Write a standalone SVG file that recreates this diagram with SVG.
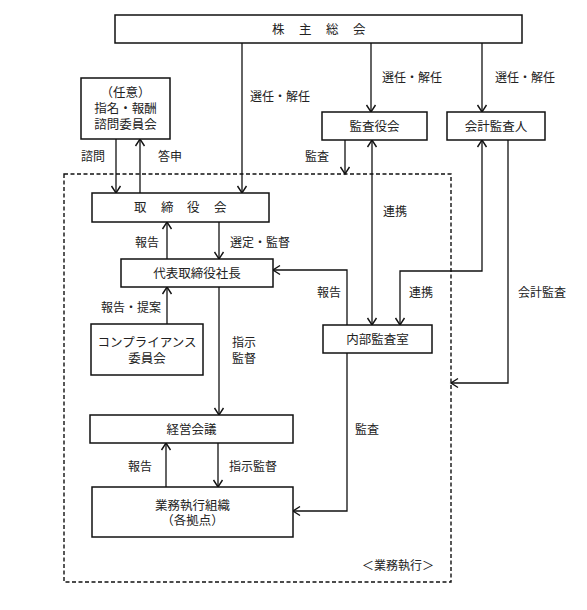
<svg xmlns="http://www.w3.org/2000/svg" width="587" height="610" viewBox="0 0 587 610">
<defs>
<marker id="ah" markerUnits="userSpaceOnUse" markerWidth="12" markerHeight="12" viewBox="-10 -6 12 12" refX="0" refY="0" orient="auto-start-reverse">
<path d="M-7,-4.5 L0,0 L-7,4.5" fill="none" stroke="#111" stroke-width="1.4"/>
</marker>
<style>
.box{fill:#fff;stroke:#111;stroke-width:1.5}
.t{font-family:"Noto Sans CJK JP","Noto Sans",sans-serif;font-size:12.5px;fill:#222}
.c{text-anchor:middle}
.l{font-family:"Noto Sans CJK JP","Noto Sans",sans-serif;font-size:12px;fill:#222}
.ln{fill:none;stroke:#111;stroke-width:1.3}
.ar{marker-end:url(#ah)}
.dash{fill:none;stroke:#111;stroke-width:1.4;stroke-dasharray:4,2.5}
</style>
</defs>
<rect class="dash" x="64" y="174" width="387" height="408"/>
<g id="connectors">
<line class="ln ar" x1="242" y1="43" x2="242" y2="193"/>
<line class="ln ar" x1="371" y1="43" x2="371" y2="112"/>
<line class="ln ar" x1="482" y1="43" x2="482" y2="112"/>
<line class="ln ar" x1="116" y1="139" x2="116" y2="193"/>
<line class="ln ar" x1="140" y1="193" x2="140" y2="139"/>
<line class="ln ar" x1="345" y1="140" x2="345" y2="174"/>
<line class="ln ar" x1="372" y1="140" x2="372" y2="325" style="marker-start:url(#ah)"/>
<path class="ln ar" d="M400,325 V271 H482 V140" style="marker-start:url(#ah)"/>
<path class="ln ar" d="M508,140 V383 H451"/>
<line class="ln ar" x1="167" y1="259" x2="167" y2="222"/>
<line class="ln ar" x1="219" y1="222" x2="219" y2="259"/>
<line class="ln ar" x1="167" y1="324" x2="167" y2="287"/>
<line class="ln ar" x1="219" y1="287" x2="219" y2="415"/>
<path class="ln ar" d="M347,325 V270 H273"/>
<line class="ln ar" x1="166" y1="487" x2="166" y2="443"/>
<line class="ln ar" x1="218" y1="443" x2="218" y2="487"/>
<path class="ln ar" d="M347,353 V511 H293"/>
</g>
<g id="labels">
<text class="l" x="250" y="101">選任・解任</text>
<text class="l" x="382" y="82">選任・解任</text>
<text class="l" x="495" y="82">選任・解任</text>
<text class="l" x="81" y="161">諮問</text>
<text class="l" x="158" y="161">答申</text>
<text class="l" x="305" y="161">監査</text>
<text class="l" x="383" y="216">連携</text>
<text class="l" x="135" y="247">報告</text>
<text class="l" x="230" y="247">選定・監督</text>
<text class="l" x="317" y="297">報告</text>
<text class="l" x="409" y="297">連携</text>
<text class="l" x="518" y="297">会計監査</text>
<text class="l" x="101" y="312">報告・提案</text>
<text class="l" x="232" y="347">指示</text>
<text class="l" x="232" y="363">監督</text>
<text class="l" x="355" y="434">監査</text>
<text class="l" x="128" y="471">報告</text>
<text class="l" x="229" y="471">指示監督</text>
<text class="l" x="362" y="570">＜業務執行＞</text>
</g>
<g id="shareholders">
<rect class="box" x="115" y="15" width="407" height="28"/>
<text class="t" x="272 299 326 353" y="33.5">株主総会</text>
</g>
<g id="nomination">
<rect class="box" x="81" y="78" width="89" height="61"/>
<text class="t c" x="125.5" y="97">（任意）</text>
<text class="t c" x="125.5" y="113">指名・報酬</text>
<text class="t c" x="125.5" y="129">諮問委員会</text>
</g>
<g id="auditors">
<rect class="box" x="322" y="112" width="105" height="28"/>
<text class="t c" x="374.5" y="130.5">監査役会</text>
</g>
<g id="accounting-auditor">
<rect class="box" x="447" y="112" width="98" height="28"/>
<text class="t c" x="496" y="130.5">会計監査人</text>
</g>
<g id="board">
<rect class="box" x="92" y="193" width="177" height="29"/>
<text class="t" x="134 161 187 214" y="212">取締役会</text>
</g>
<g id="president">
<rect class="box" x="121" y="259" width="152" height="28"/>
<text class="t c" x="197" y="277.5">代表取締役社長</text>
</g>
<g id="compliance">
<rect class="box" x="91" y="324" width="112" height="51"/>
<text class="t c" x="147" y="347">コンプライアンス</text>
<text class="t c" x="147" y="363">委員会</text>
</g>
<g id="internal-audit">
<rect class="box" x="323" y="325" width="109" height="28"/>
<text class="t c" x="377.5" y="343.5">内部監査室</text>
</g>
<g id="management">
<rect class="box" x="90" y="415" width="203" height="28"/>
<text class="t c" x="191.5" y="433.5">経営会議</text>
</g>
<g id="operations">
<rect class="box" x="92" y="487" width="201" height="50"/>
<text class="t c" x="192.5" y="509.5">業務執行組織</text>
<text class="t c" x="192.5" y="524.5">（各拠点）</text>
</g>
</svg>
